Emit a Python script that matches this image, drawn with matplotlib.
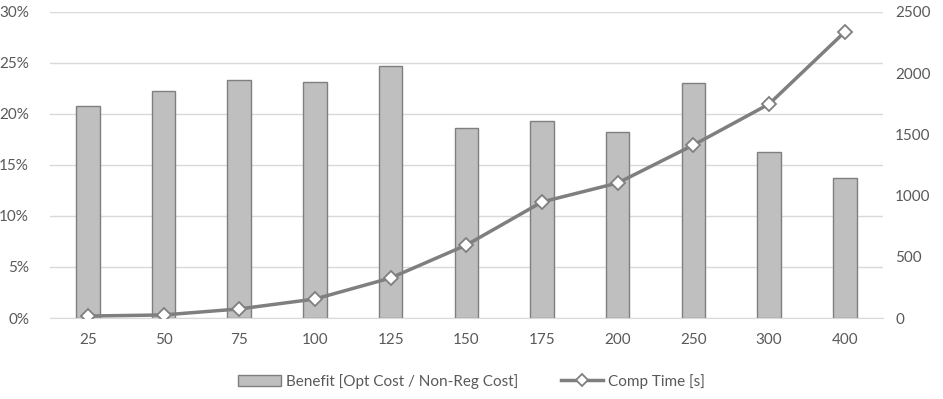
import matplotlib
matplotlib.use("Agg")
import matplotlib.pyplot as plt
import numpy as np
from matplotlib.ticker import FuncFormatter

plt.rcParams['font.family'] = ['Lato', 'DejaVu Sans']

categories = ['25', '50', '75', '100', '125', '150', '175', '200', '250', '300', '400']
benefit = [20.8, 22.3, 23.3, 23.1, 24.7, 18.6, 19.3, 18.2, 23.0, 16.3, 13.7]  # percent
comp_time = [16, 25, 74, 155, 327, 596, 948, 1103, 1413, 1748, 2337]  # seconds

txt = '#595959'
grid_c = '#d9d9d9'
bar_c = '#bfbfbf'
edge_c = '#7f7f7f'

fig = plt.figure(figsize=(9.43, 3.99), dpi=100)
ax = fig.add_axes([0.053, 0.203, 0.883, 0.767])
ax2 = ax.twinx()

x = np.arange(len(categories))
bars = ax.bar(x, benefit, width=0.31, color=bar_c, edgecolor=edge_c, linewidth=1,
              label='Benefit [Opt Cost / Non-Reg Cost]', zorder=2)
ln, = ax2.plot(x, comp_time, color=edge_c, linewidth=2.5, marker='D', markersize=7.5,
               markerfacecolor='white', markeredgecolor=edge_c, markeredgewidth=1.3,
               label='Comp Time [s]', zorder=3)

ax.set_xlim(-0.5, len(categories) - 0.5)
ax.set_ylim(0, 30)
ax.set_yticks(np.arange(0, 31, 5))
ax.yaxis.set_major_formatter(FuncFormatter(lambda v, p: f'{v:.0f}%'))
ax2.set_ylim(0, 2500)
ax2.set_yticks(np.arange(0, 2501, 500))

ax.set_xticks(x)
ax.set_xticklabels(categories)
ax.grid(axis='y', color=grid_c, linewidth=1, zorder=0)
ax.set_axisbelow(True)

for a in (ax, ax2):
    for s in a.spines.values():
        s.set_visible(False)
    a.tick_params(length=0, colors=txt, labelsize=11)
ax.spines['bottom'].set_visible(True)
ax.spines['bottom'].set_color(grid_c)
ax.tick_params(axis='x', pad=11)
ax.tick_params(axis='y', pad=15)
ax2.tick_params(axis='y', pad=9)

fig.legend([bars, ln], [bars.get_label(), ln.get_label()], loc='center',
           bbox_to_anchor=(0.5, 0.045), ncol=2, frameon=False, fontsize=11,
           labelcolor=txt, handlelength=2.8, columnspacing=2.8, handletextpad=0.3,
           markerscale=0.8)

fig.savefig('out.png', dpi=100)
